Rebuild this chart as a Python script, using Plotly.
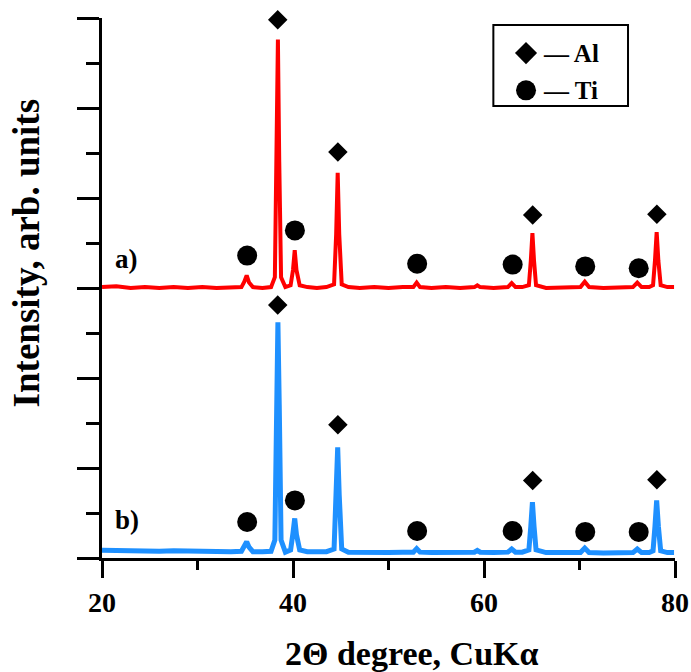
import plotly.graph_objects as go

# ---- data ----
two_theta = [20, 21.5, 23, 24.5, 26, 27.5, 29, 30.5, 32, 33.5,
             34.6, 34.9, 35.15, 35.4, 35.8,
             36.8, 37.7,
             38.1, 38.28, 38.42, 38.56, 38.75,
             39.2,
             39.75, 40.0, 40.18, 40.36, 40.7,
             41.5, 42.5, 43.5,
             44.3, 44.52, 44.68, 44.84, 45.1,
             45.8, 47, 48.5, 50, 51.5,
             52.6, 52.95, 53.3,
             54.5, 56, 57.5,
             59.0, 59.3, 59.6,
             61,
             62.5, 62.9, 63.3,
             64.0,
             64.7, 64.9, 65.07, 65.24, 65.45,
             66.5, 68.5,
             70.1, 70.55, 71.0,
             72.5, 74,
             75.6, 76.05, 76.5,
             77.3,
             77.7, 77.9, 78.08, 78.26, 78.5,
             79.2, 79.9]

intensity_a = [3.01, 3.02, 3.00, 3.01, 3.00, 3.01, 3.00, 3.01, 3.00, 3.01,
               3.01, 3.07, 3.14, 3.06, 3.01,
               3.00, 3.01,
               3.12, 4.40, 5.76, 4.40, 3.12,
               3.01,
               3.03, 3.20, 3.42, 3.20, 3.03,
               3.01, 3.00, 3.01,
               3.04, 3.60, 4.28, 3.60, 3.04,
               3.01, 3.00, 3.01, 3.00, 3.01,
               3.01, 3.06, 3.01,
               3.00, 3.01, 3.00,
               3.01, 3.03, 3.01,
               3.00,
               3.01, 3.055, 3.01,
               3.01,
               3.03, 3.30, 3.61, 3.30, 3.03,
               3.00, 3.01,
               3.01, 3.07, 3.01,
               3.00, 3.01,
               3.01, 3.06, 3.01,
               3.01,
               3.03, 3.30, 3.62, 3.30, 3.03,
               3.01, 3.01]

intensity_b = [0.085, 0.08, 0.085, 0.08, 0.075, 0.08, 0.075, 0.07, 0.075, 0.07,
               0.075, 0.13, 0.18, 0.12, 0.07,
               0.07, 0.075,
               0.20, 1.70, 2.62, 1.70, 0.20,
               0.065,
               0.09, 0.28, 0.44, 0.26, 0.09,
               0.07, 0.065, 0.07,
               0.10, 0.70, 1.23, 0.70, 0.10,
               0.065, 0.06, 0.065, 0.06, 0.065,
               0.065, 0.105, 0.065,
               0.06, 0.065, 0.06,
               0.065, 0.085, 0.065,
               0.06,
               0.065, 0.10, 0.065,
               0.065,
               0.09, 0.35, 0.62, 0.35, 0.09,
               0.06, 0.06,
               0.06, 0.11, 0.06,
               0.055, 0.06,
               0.06, 0.10, 0.06,
               0.06,
               0.08, 0.35, 0.64, 0.35, 0.08,
               0.06, 0.06]

al_theta = [38.4, 44.7, 65.1, 78.1]
al_mark_a = [5.98, 4.51, 3.81, 3.82]
al_mark_b = [2.81, 1.48, 0.86, 0.87]

ti_theta = [35.2, 40.2, 53.0, 63.0, 70.6, 76.2]
ti_mark_a = [3.36, 3.64, 3.27, 3.26, 3.24, 3.22]
ti_mark_b = [0.40, 0.64, 0.30, 0.30, 0.29, 0.29]

x_ticks = [20, 40, 60, 80]
legend_labels = ["— Al", "— Ti"]
sample_labels = ["a)", "b)"]
sample_label_pos = [(22.6, 3.32), (22.6, 0.42)]
x_title = "2Θ degree, CuKα"
y_title = "Intensity, arb. units"

# ---- figure ----
SERIF = "Liberation Serif"
fig = go.Figure()

fig.add_trace(go.Scatter(x=two_theta, y=intensity_a, mode="lines",
                         line=dict(color="#ff0000", width=4), showlegend=False))
fig.add_trace(go.Scatter(x=two_theta, y=intensity_b, mode="lines",
                         line=dict(color="#1e90ff", width=5), showlegend=False))

for yvals in (al_mark_a, al_mark_b):
    fig.add_trace(go.Scatter(x=al_theta, y=yvals, mode="markers", cliponaxis=False,
                             marker=dict(symbol="diamond", size=15, color="black"),
                             showlegend=False))
for yvals in (ti_mark_a, ti_mark_b):
    fig.add_trace(go.Scatter(x=ti_theta, y=yvals, mode="markers", cliponaxis=False,
                             marker=dict(symbol="circle", size=20, color="black"),
                             showlegend=False))

# custom legend (overlay axes in 0..1 coordinates)
fig.add_trace(go.Scatter(x=[0.74], y=[0.935], xaxis="x2", yaxis="y2", mode="markers",
                         marker=dict(symbol="diamond", size=17, color="black"),
                         showlegend=False, cliponaxis=False))
fig.add_trace(go.Scatter(x=[0.74], y=[0.866], xaxis="x2", yaxis="y2", mode="markers",
                         marker=dict(symbol="circle", size=20, color="black"),
                         showlegend=False, cliponaxis=False))
fig.add_shape(type="rect", xref="paper", yref="paper", x0=0.683, x1=0.918, y0=0.837, y1=0.987,
              line=dict(color="black", width=2), fillcolor="white", layer="below")
for lab, yy in zip(legend_labels, [0.935, 0.866]):
    fig.add_annotation(x=0.766, y=yy, xref="paper", yref="paper", text=lab, showarrow=False,
                       xanchor="left", yanchor="middle",
                       font=dict(family=SERIF, size=25, color="black", weight="bold"))

for lab, (xx, yy) in zip(sample_labels, sample_label_pos):
    fig.add_annotation(x=xx, y=yy, text=lab, showarrow=False, xanchor="center", yanchor="middle",
                       font=dict(family=SERIF, size=27, color="black", weight="bold"))

fig.add_annotation(x=0.541, y=-0.177, xref="paper", yref="paper", text=x_title, showarrow=False,
                   xanchor="center", yanchor="middle",
                   font=dict(family=SERIF, size=34, color="black", weight="bold"))
fig.add_annotation(x=-0.131, y=0.564, xref="paper", yref="paper", text=y_title, showarrow=False,
                   textangle=-90, xanchor="center", yanchor="middle",
                   font=dict(family=SERIF, size=37, color="black", weight="bold"))

fig.update_layout(
    width=691, height=672,
    margin=dict(l=102, r=16, t=18, b=114, autoexpand=False),
    paper_bgcolor="white", plot_bgcolor="white",
    showlegend=False,
    hovermode=False,
    xaxis=dict(range=[20, 80], tickvals=x_ticks, ticks="outside", ticklen=17, tickwidth=3,
               tickcolor="black", showline=True, linewidth=3, linecolor="black",
               showgrid=False, zeroline=False, automargin=False,
               minor=dict(dtick=10, ticks="outside", ticklen=9, tickwidth=3, tickcolor="black"),
               tickfont=dict(family=SERIF, size=28, color="black", weight="bold")),
    yaxis=dict(range=[0, 6], dtick=1, ticks="outside", ticklen=22, tickwidth=3,
               tickcolor="black", showline=True, linewidth=3, linecolor="black",
               showgrid=False, zeroline=False, showticklabels=False, automargin=False,
               minor=dict(dtick=0.5, ticks="outside", ticklen=13, tickwidth=3, tickcolor="black")),
    xaxis2=dict(range=[0, 1], overlaying="x", visible=False, fixedrange=True),
    yaxis2=dict(range=[0, 1], overlaying="y", visible=False, fixedrange=True),
)

# remove the browser's default 8 px body margin so the figure fills the window exactly
fig.write_html("out.html", config={"displayModeBar": False},
               post_script="document.body.style.margin='0';document.body.style.overflow='hidden';")
